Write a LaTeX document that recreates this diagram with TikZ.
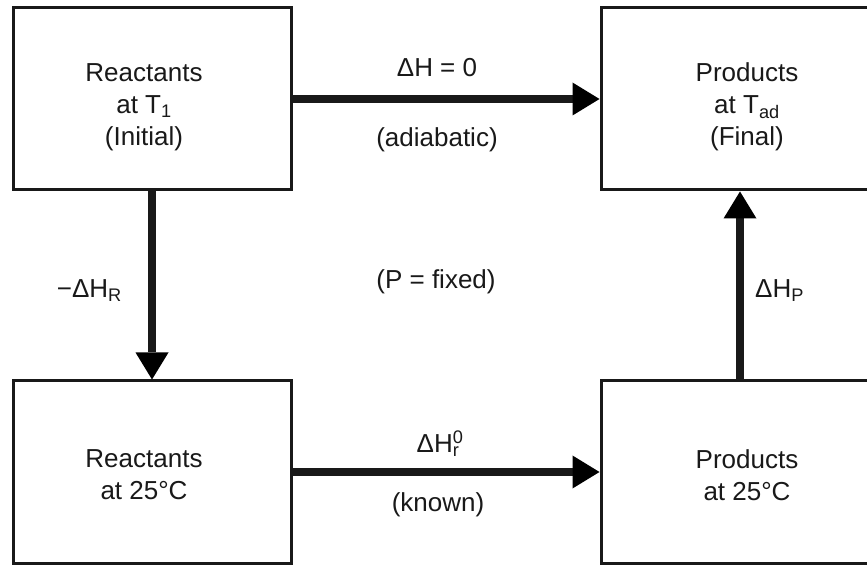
\documentclass[tikz,border=0pt]{standalone}
\usepackage{fontspec}
\setmainfont{Liberation Sans}
\usetikzlibrary{arrows.meta}

\tikzset{
  state/.style={rectangle, draw=black!90, line width=3pt, minimum width=278pt, minimum height=182pt, inner sep=0pt},
  flow/.style={draw=black!90, line width=8pt, -{Triangle[length=27pt,width=33pt,line width=0pt]}},
  lbl/.style={inner sep=0pt, text=black!90, align=center}
}

\begin{document}
\begin{tikzpicture}[x=1pt, y=1pt, font=\fontsize{26}{32}\selectfont]
      \clip (0,0) rectangle (867,565);
      \fill[white] (0,0) rectangle (867,565);

      % the four states, text set a little off centre
      \node[state, name=rt, label={[lbl, xshift=-8pt, yshift=-8pt]center:{Reactants\\ at T\textsubscript{1}\\ (Initial)}}] at (152,466) {};
      \node[state, name=pt, label={[lbl, xshift=7pt, yshift=-8pt]center:{Products\\ at T\textsubscript{ad}\\ (Final)}}] at (740,466) {};
      \node[state, name=r25, label={[lbl, xshift=-8pt, yshift=-3pt]center:{Reactants\\ at 25°C}}] at (152,93) {};
      \node[state, name=p25, label={[lbl, xshift=7pt, yshift=-3pt]center:{Products\\ at 25°C}}] at (740,93) {};

      \path[flow]
         (rt) edge (pt)
         (rt) edge (r25)
         (r25) edge (p25)
         (p25) edge (pt);

      \node[lbl, name=dh0, anchor=base] at (437,488) {ΔH = 0};
      \node[lbl, name=adiab] at (437,425) {(adiabatic)};
      \node[lbl, name=pfix] at (436,283) {(P = fixed)};
      \node[lbl, name=dhr, anchor=base east] at (122,267) {−ΔH\textsubscript{R}};
      \node[lbl, name=dhp, anchor=base west] at (755,267) {ΔH\textsubscript{P}};
      \node[lbl, name=dhf, anchor=base] at (438,112) {ΔH\rlap{\textsuperscript{0}}\textsubscript{r}};
      \node[lbl, name=known] at (438,60) {(known)};
   \end{tikzpicture}
\end{document}
